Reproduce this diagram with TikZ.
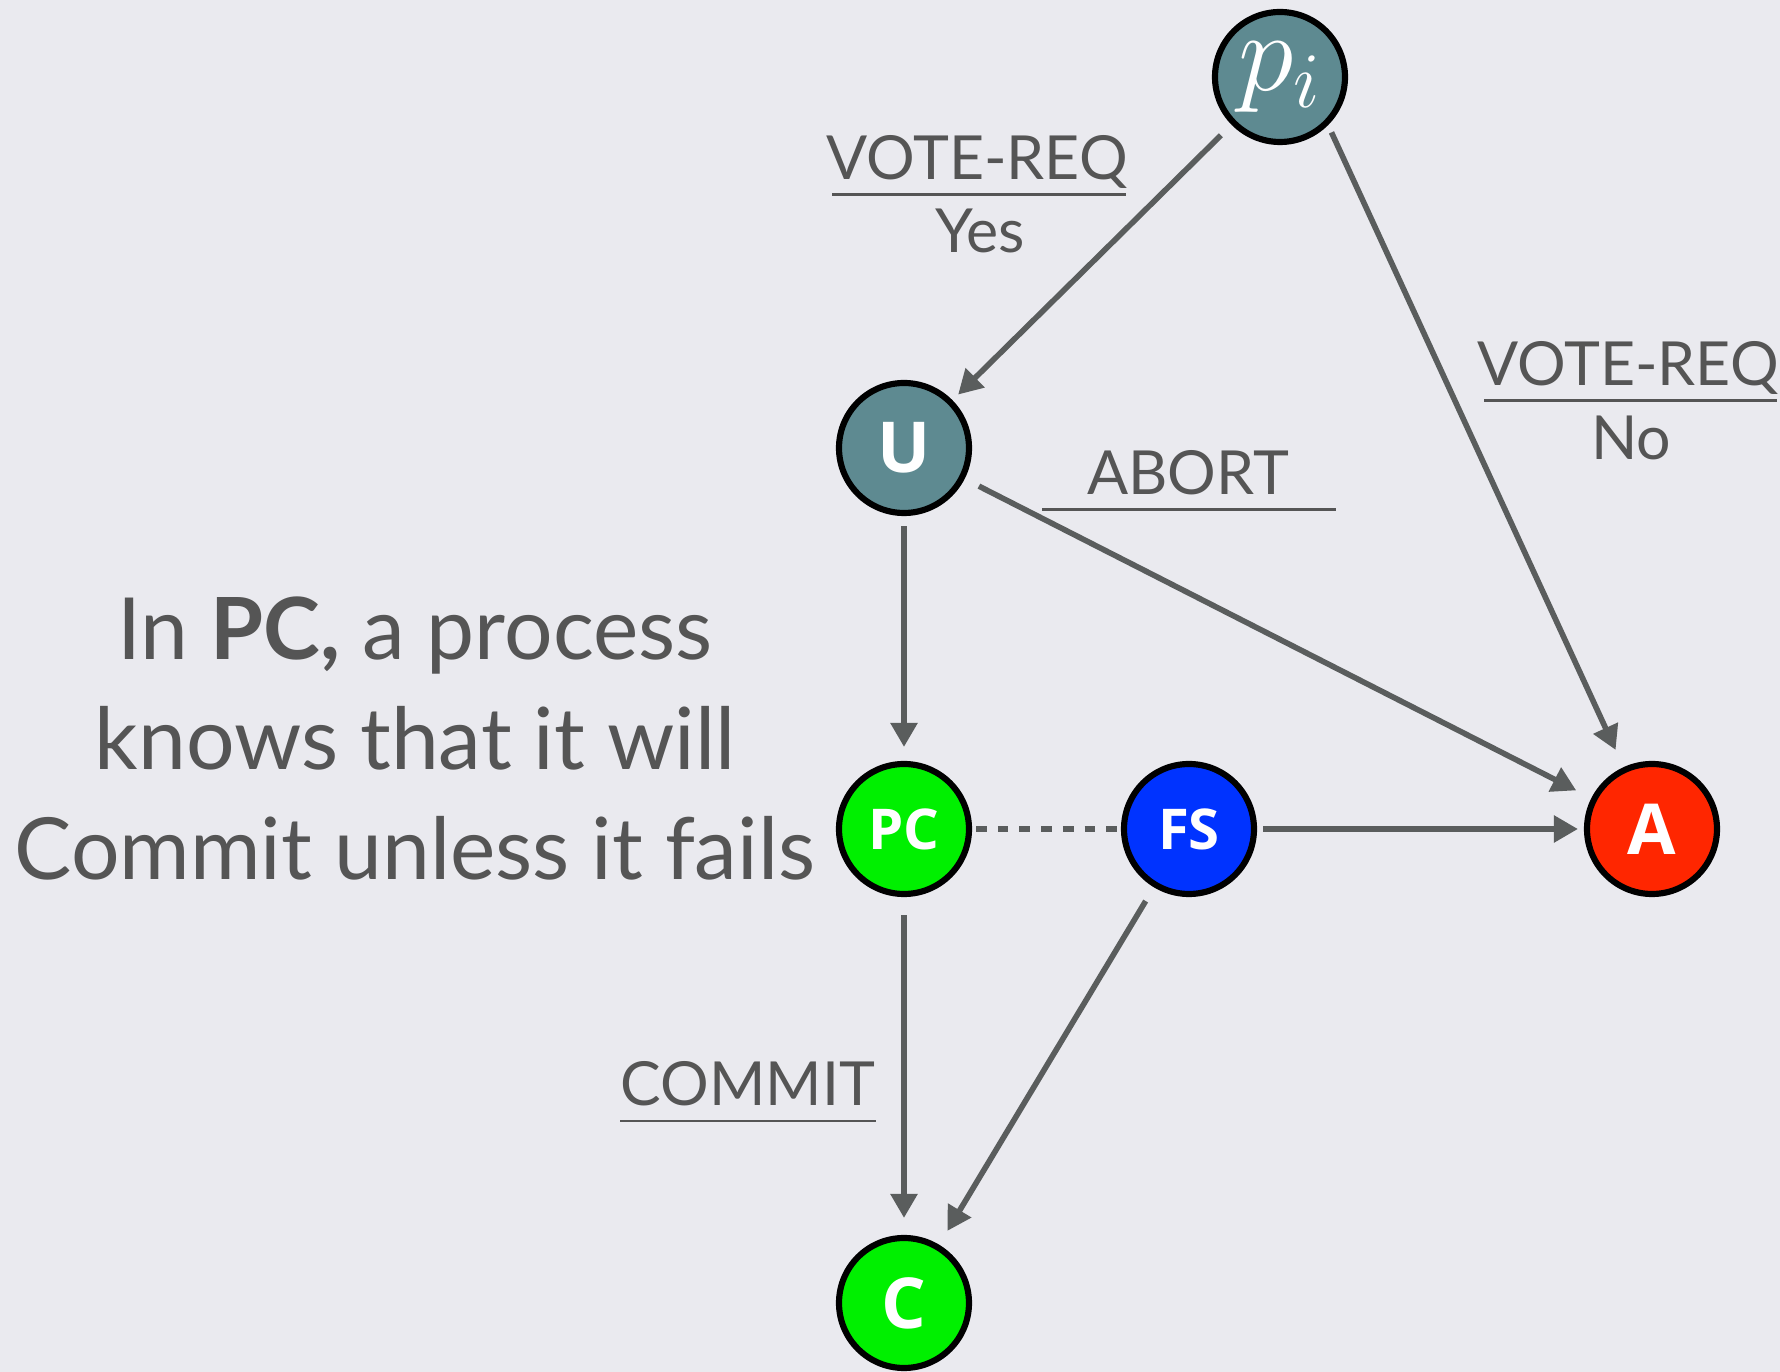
\RequirePackage{fix-cm}
\documentclass[tikz,border=0pt]{standalone}
\usepackage{fontspec}
\setmainfont{Lato}
\newfontfamily\statefont{Open Sans}
\usetikzlibrary{arrows.meta}

\definecolor{paper}{RGB}{234,234,239}
\definecolor{ink}{RGB}{85,85,85}
\definecolor{wire}{RGB}{90,93,93}
\definecolor{slate}{RGB}{94,138,145}
\definecolor{cgreen}{RGB}{0,240,0}
\definecolor{cblue}{RGB}{0,51,255}
\definecolor{cred}{RGB}{255,38,0}

\tikzset{
  state/.style={circle, draw=black, line width=1.75pt, minimum size=1.30cm,
    inner sep=0pt, text=white, font=\statefont\bfseries\fontsize{20}{24}\selectfont},
  small/.style={font=\statefont\bfseries\fontsize{16}{19}\selectfont},
  edge/.style={draw=wire, line width=1.6pt, -{Triangle[width=0.26cm,length=0.24cm]}},
  msg/.style={text=ink, font=\fontsize{17.3}{20}\selectfont, inner sep=0pt, anchor=base},
  note/.style={text=ink, font=\fontsize{24.4}{30}\selectfont, inner sep=0pt, anchor=base},
  bar/.style={draw=ink, line width=0.85pt}
}

\begin{document}
\begin{tikzpicture}[x=1cm,y=-1cm]
  \useasboundingbox[fill=paper] (0,0) rectangle (17.8,13.72);

  % states
  \node[state, fill=slate, font=\fontsize{32}{38}\selectfont] (pi) at (12.80,0.77) {$p_i$};
  \node[state, fill=slate] (U) at (9.04,4.48) {U};
  \node[state, small, fill=cgreen] (PC) at (9.04,8.29) {PC};
  \node[state, small, fill=cblue] (FS) at (11.89,8.29) {FS};
  \node[state, fill=cred] (A) at (16.52,8.29) {A};
  \node[state, fill=cgreen] (C) at (9.04,13.03) {C};

  % transitions
  \draw[edge, shorten <=0.15cm, shorten >=0.08cm] (pi) -- (U);
  \draw[edge, shorten <=0.08cm, shorten >=0.19cm] (pi.-45) -- (A);
  \draw[edge, shorten <=0.10cm, shorten >=0.14cm] (U) -- (PC);
  \draw[edge, shorten <=0.16cm, shorten >=0.17cm] (U) -- (A);
  \draw[draw=wire, line width=1.6pt, dash pattern=on 0.107cm off 0.11cm,
    shorten <=0.04cm] (PC) -- (FS);
  \draw[edge, shorten <=0.06cm, shorten >=0.06cm] (FS) -- (A);
  \draw[edge, shorten <=0.18cm, shorten >=0.17cm] (PC) -- (C);
  \draw[edge, shorten <=0.16cm, shorten >=0.16cm] (FS) -- (C);

  % message labels, received over sent
  \node[msg] (vreqY) at (9.77,1.80) {VOTE-REQ};
  \node[msg] (yes) at (9.80,2.53) {Yes};
  \draw[bar] (8.32,1.95) -- (11.26,1.95);

  \node[msg] (vreqN) at (16.28,3.86) {VOTE-REQ};
  \node[msg] (no) at (16.31,4.60) {No};
  \draw[bar] (14.84,4.01) -- (17.77,4.01);

  \node[msg] (abort) at (11.88,4.95) {ABORT};
  \draw[bar] (10.42,5.10) -- (13.36,5.10);

  \node[msg] (commit) at (7.48,11.06) {COMMIT};
  \draw[bar] (6.20,11.21) -- (8.76,11.21);

  % the remark on the left
  \node[note] (line1) at (4.15,6.60) {In \textbf{PC,} a process};
  \node[note] (line2) at (4.15,7.70) {knows that it will};
  \node[note] (line3) at (4.15,8.80) {Commit unless it fails};
\end{tikzpicture}
\end{document}
